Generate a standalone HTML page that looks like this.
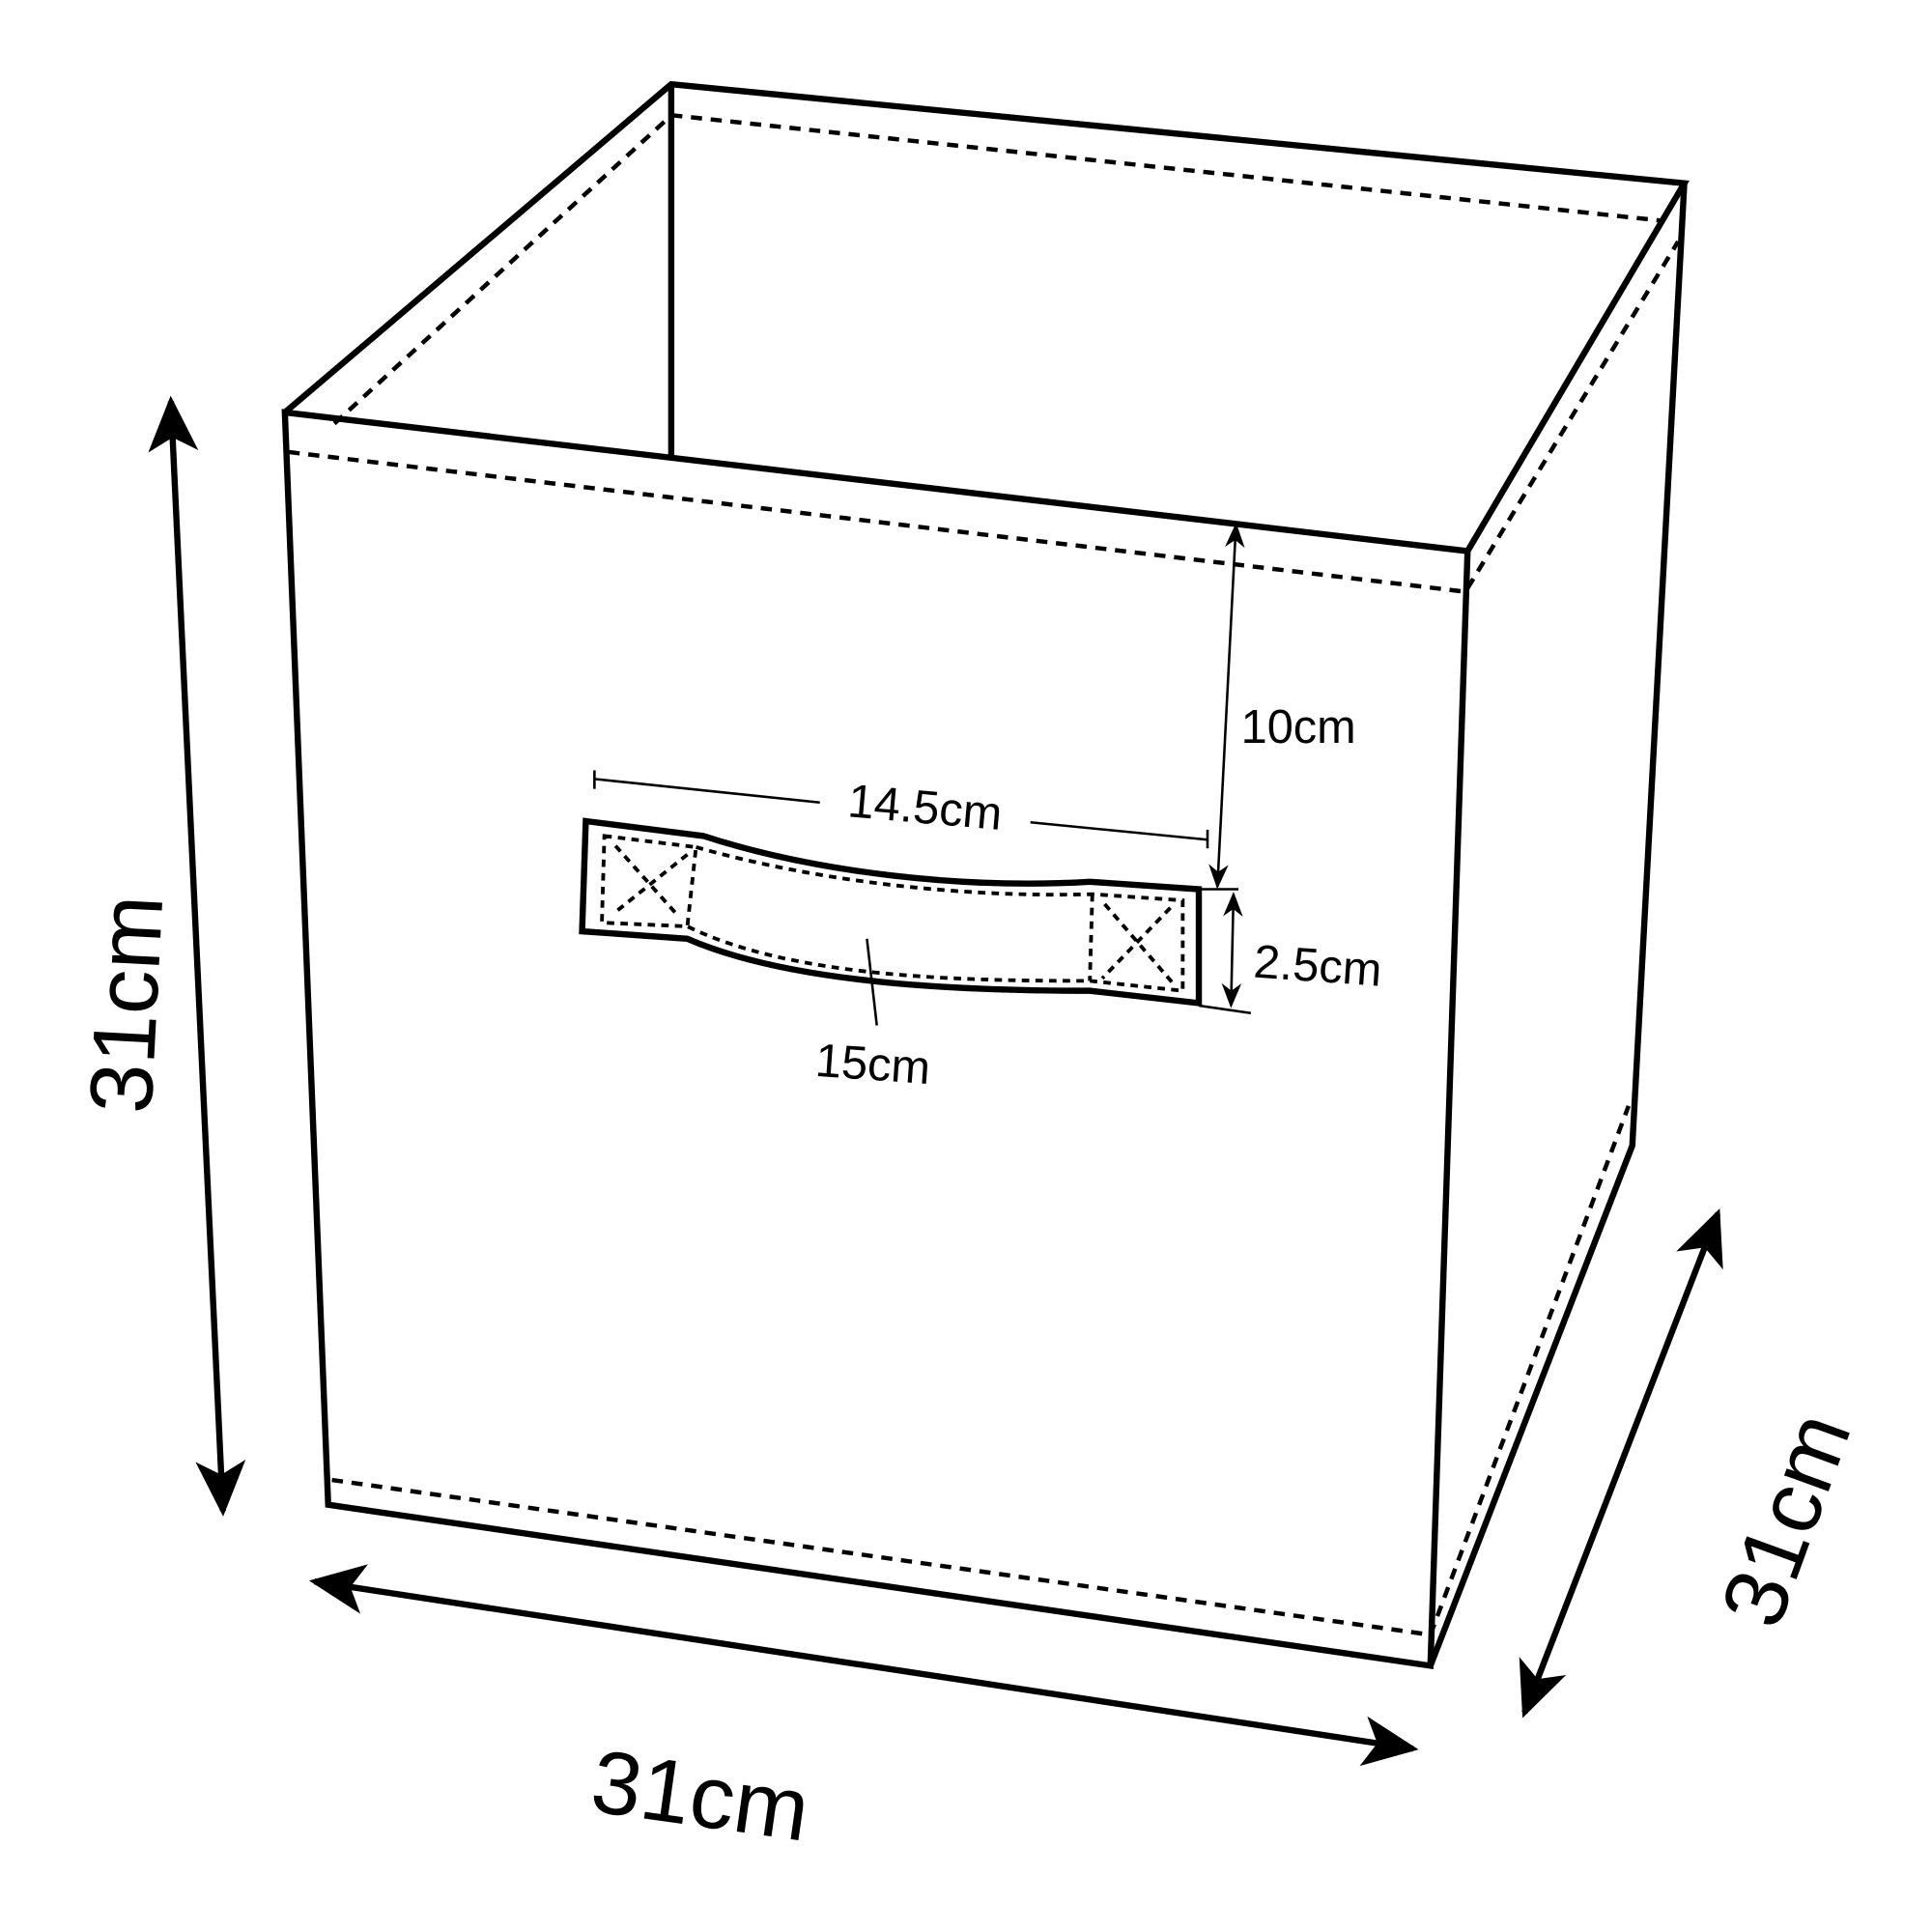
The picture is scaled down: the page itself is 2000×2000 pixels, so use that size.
<!DOCTYPE html>
<html><head><style>html,body{margin:0;padding:0;background:#fff}svg{display:block}</style></head>
<body>
<svg width="2000" height="2000" viewBox="0 0 1560 1560" xmlns="http://www.w3.org/2000/svg" font-family="Liberation Sans, Arial, sans-serif">
<defs>
<marker id="ah" viewBox="0 0 10 10" refX="9" refY="5" markerWidth="9" markerHeight="9" orient="auto-start-reverse" markerUnits="strokeWidth"><path d="M0,0.5 L10,5 L0,9.5 L2.5,5 Z" fill="#000"/></marker>
<marker id="sh" viewBox="0 0 10 10" refX="9" refY="5" markerWidth="10" markerHeight="10" orient="auto-start-reverse" markerUnits="strokeWidth"><path d="M0,1 L10,5 L0,9 L3,5 Z" fill="#000"/></marker>
</defs>
<g fill="none" stroke="#000" stroke-width="5" stroke-linejoin="miter">
<polygon points="230,333 1185,445 1155,1345 265,1215"/>
<polyline points="230,333 542,68 1360,148 1185,445"/>
<line x1="542" y1="68" x2="542" y2="368"/>
<polyline points="1360,148 1318,925 1155,1345"/>
</g>
<g fill="none" stroke="#000" stroke-width="3.5" stroke-dasharray="9,7">
<line x1="233" y1="365" x2="1185" y2="478"/>
<line x1="270" y1="342" x2="540" y2="95"/>
<line x1="542" y1="93" x2="1340" y2="178"/>
<line x1="1185" y1="475" x2="1355" y2="195"/>
<line x1="268" y1="1195" x2="1155" y2="1320"/>
<line x1="1155" y1="1320" x2="1315" y2="893"/>
</g>
<g stroke="#000" stroke-width="5" fill="none">
<line x1="138" y1="324" x2="180" y2="1220" marker-start="url(#ah)" marker-end="url(#ah)"/>
<line x1="254" y1="1277" x2="1141" y2="1412" marker-start="url(#ah)" marker-end="url(#ah)"/>
<line x1="1387" y1="980" x2="1231" y2="1383" marker-start="url(#ah)" marker-end="url(#ah)"/>
</g>
<path d="M473,663 L568,675 C660,705 780,718 880,712 L968,718 L968,810 L880,800 C780,800 640,795 555,758 L470,752 Z" fill="#fff" stroke="#000" stroke-width="5"/>
<g fill="none" stroke="#000" stroke-width="3" stroke-dasharray="6,5">
<path d="M488,675 L562,684 L555,748 L486,745 Z"/>
<path d="M562,684 C660,712 780,725 882,722 L955,727 L955,800 L880,792 C780,792 640,790 555,748"/>
<line x1="882" y1="722" x2="880" y2="792"/>
<line x1="497" y1="683" x2="548" y2="740"/><line x1="555" y1="690" x2="495" y2="738"/>
<line x1="892" y1="730" x2="948" y2="795"/><line x1="945" y1="733" x2="890" y2="790"/>
</g>
<g stroke="#000" stroke-width="2" fill="none">
<line x1="480" y1="622" x2="480" y2="637"/><line x1="975" y1="670" x2="975" y2="685"/>
<line x1="480" y1="629" x2="662" y2="648"/><line x1="832" y1="664" x2="975" y2="678"/>
<line x1="998" y1="424" x2="983" y2="716" marker-start="url(#sh)" marker-end="url(#sh)"/>
<line x1="968" y1="718" x2="1000" y2="718"/><line x1="968" y1="812" x2="1010" y2="818"/>
<line x1="996" y1="722" x2="994" y2="812" marker-start="url(#sh)" marker-end="url(#sh)"/>
<line x1="700" y1="758" x2="708" y2="828"/>
</g>
<g fill="#000">
<text x="1002" y="600" font-size="38">10cm</text>
<text x="684" y="665" font-size="38" transform="rotate(5 750 660)">14.5cm</text>
<text x="1012" y="793" font-size="38" transform="rotate(4 1070 785)">2.5cm</text>
<text x="658" y="872" font-size="38" transform="rotate(4 705 865)">15cm</text>
<text x="0" y="0" font-size="72" transform="translate(122,900) rotate(-87)">31cm</text>
<text x="0" y="0" font-size="72" transform="translate(475,1462) rotate(8)">31cm</text>
<text x="0" y="0" font-size="72" transform="translate(1435,1318) rotate(-70)">31cm</text>
</g>
</svg>
</body></html>
